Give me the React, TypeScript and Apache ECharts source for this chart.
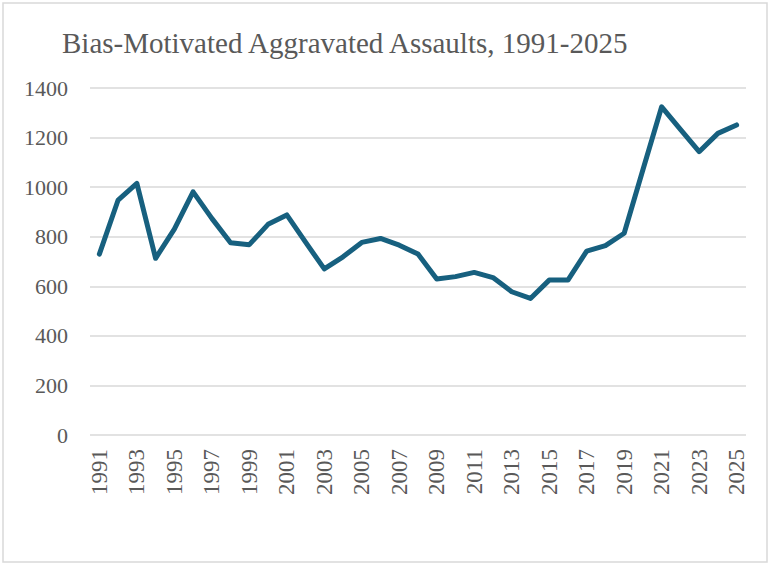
import React, { useEffect, useRef } from "react";
import * as echarts from "echarts";

const titleText = "Bias-Motivated Aggravated Assaults, 1991-2025";
const years = [
  "1991", "1992", "1993", "1994", "1995", "1996", "1997", "1998", "1999", "2000",
  "2001", "2002", "2003", "2004", "2005", "2006", "2007", "2008", "2009", "2010",
  "2011", "2012", "2013", "2014", "2015", "2016", "2017", "2018", "2019", "2020",
  "2021", "2022", "2023", "2024", "2025",
];
const assaults = [
  730, 948, 1015, 713, 831, 981, 874, 776, 768, 850,
  888, 778, 670, 719, 777, 793, 766, 730, 629, 639,
  656, 635, 578, 551, 625, 625, 742, 764, 814, 1070,
  1324, 1233, 1143, 1217, 1251,
];
const yMin = 0;
const yMax = 1400;
const yStep = 200;

const FONT = "Times New Roman, Liberation Serif, DejaVu Serif, serif";
const TEXT = "#595959";

export default function App() {
  const ref = useRef<HTMLDivElement>(null);
  useEffect(() => {
    if (!ref.current) return;
    const chart = echarts.init(ref.current, undefined, { renderer: "svg" });
    chart.setOption({
      animation: false,
      backgroundColor: "#ffffff",
      textStyle: { fontFamily: FONT },
      title: {
        text: titleText,
        left: 57,
        top: 23,
        textStyle: { fontFamily: FONT, fontSize: 29, fontWeight: "normal", color: TEXT },
      },
      graphic: [
        {
          type: "rect",
          shape: { x: 3, y: 3, width: 764, height: 559 },
          style: { fill: "none", stroke: "#d9d9d9", lineWidth: 1.5 },
          silent: true,
        },
      ],
      grid: { left: 90, right: 22, top: 88, bottom: 128, containLabel: false },
      xAxis: {
        type: "category",
        data: years,
        boundaryGap: true,
        axisLine: { show: false },
        axisTick: { show: false },
        axisLabel: {
          interval: 1,
          rotate: 90,
          margin: 14,
          fontFamily: FONT,
          fontSize: 23,
          color: TEXT,
        },
        splitLine: { show: false },
      },
      yAxis: {
        type: "value",
        min: yMin,
        max: yMax,
        interval: yStep,
        axisLine: { show: false },
        axisTick: { show: false },
        axisLabel: {
          margin: 22,
          fontFamily: FONT,
          fontSize: 22,
          color: TEXT,
          formatter: (v: number) => String(v),
        },
        splitLine: { lineStyle: { color: "#d9d9d9", width: 1.5 } },
      },
      series: [
        {
          type: "line",
          data: assaults,
          symbol: "none",
          lineStyle: { color: "#17607f", width: 5, cap: "round", join: "round" },
        },
      ],
    });
    return () => chart.dispose();
  }, []);
  return (
    <div
      ref={ref}
      style={{ position: "fixed", left: 0, top: 0, width: 768, height: 563 }}
    />
  );
}
